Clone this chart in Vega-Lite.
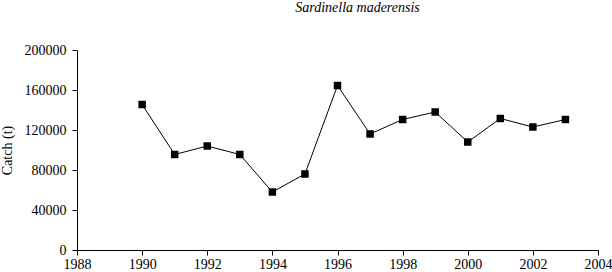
{
  "$schema": "https://vega.github.io/schema/vega-lite/v6.json",
  "autosize": "none",
  "padding": {"left": 77, "top": 50, "right": 14, "bottom": 22},
  "width": 521,
  "height": 200,
  "background": "white",
  "title": {
    "text": "Sardinella maderensis",
    "font": "Liberation Serif",
    "fontSize": 14,
    "fontStyle": "italic",
    "fontWeight": "normal",
    "color": "black",
    "anchor": "middle",
    "frame": "group",
    "dx": 20,
    "offset": 28
  },
  "config": {
    "view": {"stroke": null},
    "axis": {
      "labelFont": "Liberation Serif",
      "labelFontSize": 14,
      "labelColor": "black",
      "titleFont": "Liberation Serif",
      "titleFontSize": 14,
      "titleFontWeight": "normal",
      "titleColor": "black",
      "domainColor": "black",
      "tickColor": "black",
      "tickSize": 5,
      "grid": false
    }
  },
  "data": {
    "values": [
      {"year": 1990, "catch": 145500},
      {"year": 1991, "catch": 95500},
      {"year": 1992, "catch": 104000},
      {"year": 1993, "catch": 95500},
      {"year": 1994, "catch": 58000},
      {"year": 1995, "catch": 76000},
      {"year": 1996, "catch": 164500},
      {"year": 1997, "catch": 116000},
      {"year": 1998, "catch": 130500},
      {"year": 1999, "catch": 138000},
      {"year": 2000, "catch": 108000},
      {"year": 2001, "catch": 131500},
      {"year": 2002, "catch": 123000},
      {"year": 2003, "catch": 130500}
    ]
  },
  "encoding": {
    "x": {
      "field": "year",
      "type": "quantitative",
      "scale": {"domain": [1988, 2004], "nice": false, "zero": false},
      "axis": {
        "values": [1988, 1990, 1992, 1994, 1996, 1998, 2000, 2002, 2004],
        "format": "d",
        "title": null,
        "labelPadding": 2,
        "labelFlush": false,
        "labelOverlap": false
      }
    },
    "y": {
      "field": "catch",
      "type": "quantitative",
      "scale": {"domain": [0, 200000], "nice": false},
      "axis": {
        "values": [0, 40000, 80000, 120000, 160000, 200000],
        "format": "d",
        "title": "Catch (t)",
        "labelPadding": 6,
        "titleAngle": -90,
        "titleX": -66,
        "titleY": 100,
        "titleBaseline": "alphabetic",
        "titleAlign": "center"
      }
    }
  },
  "layer": [
    {"mark": {"type": "line", "color": "black", "strokeWidth": 1}},
    {"mark": {"type": "point", "shape": "square", "filled": true, "color": "black", "size": 56, "opacity": 1}}
  ]
}
